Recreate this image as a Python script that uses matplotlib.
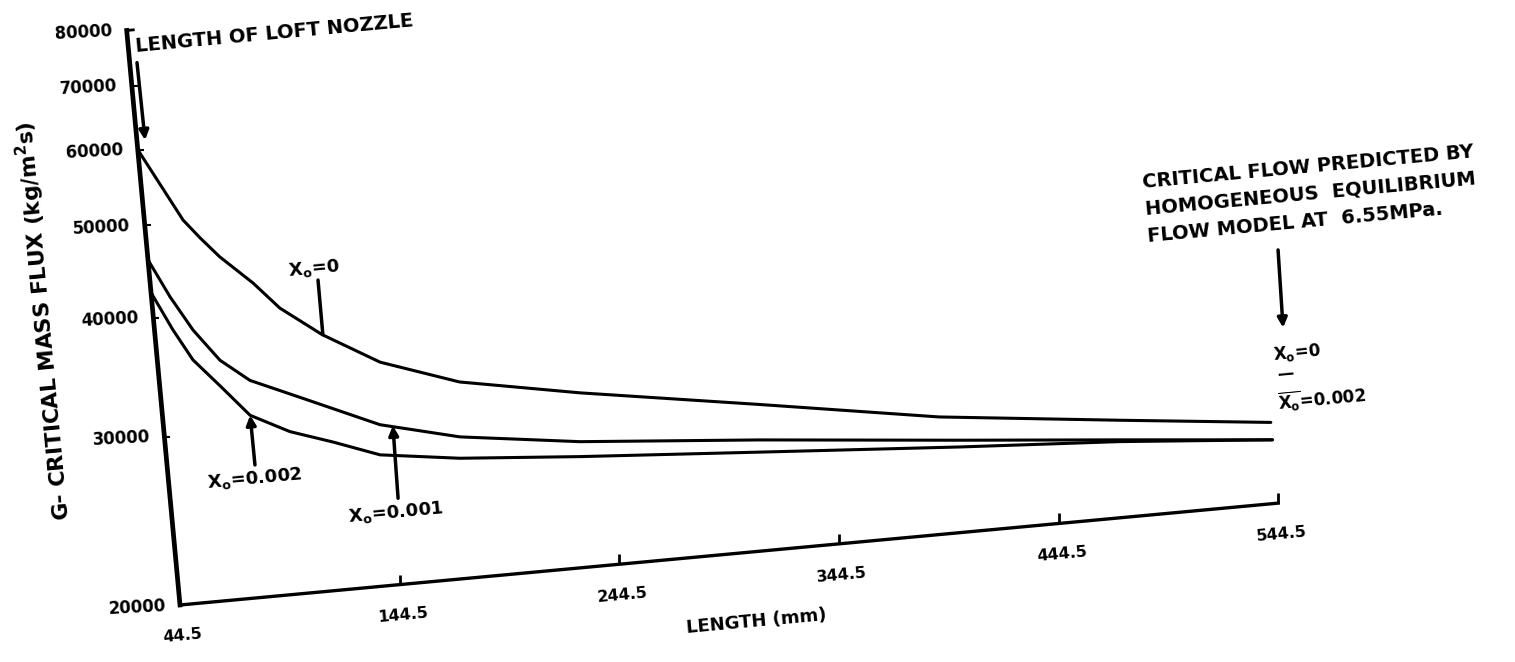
import matplotlib
matplotlib.use('Agg')
import matplotlib.pyplot as plt
from matplotlib.transforms import Affine2D
from matplotlib.markers import TICKUP, TICKRIGHT

# critical mass flux G (kg/m2s) vs length (mm)
len_xo0 = [44.5, 62, 69, 77, 91, 102, 120, 145, 180, 234, 315, 395, 477, 544.5]
g_xo0 = [60000, 50200, 47900, 45600, 42500, 39800, 37000, 34200, 32050, 30400, 28400, 26500, 25250, 24300]
len_xo001 = [44.5, 52.9, 61.9, 72.8, 85.5, 107.4, 142.3, 177.9, 231.9, 313.2, 403.4, 475.7, 544.5]
g_xo001 = [46000, 41900, 38500, 35600, 33700, 32000, 29450, 28100, 27050, 26100, 24950, 24100, 23300]
len_xo002 = [44.5, 52.8, 60.6, 71.7, 84.1, 101.4, 120.4, 141.1, 177, 231.3, 312.7, 403.2, 475.6, 544.5]
g_xo002 = [42500, 38700, 35850, 33500, 31000, 29550, 28550, 27400, 26700, 26100, 25350, 24550, 24000, 23300]

x_ticks = [44.5, 144.5, 244.5, 344.5, 444.5, 544.5]
y_ticks = [20000, 30000, 40000, 50000, 60000, 70000, 80000]

plt.rcParams['font.family'] = 'DejaVu Sans'
plt.rcParams['font.weight'] = 'bold'
plt.rcParams['mathtext.fontset'] = 'dejavusans'
plt.rcParams['mathtext.default'] = 'bf'

fig = plt.figure(figsize=(15.15, 6.62), dpi=100)
ax = fig.add_axes([180 / 1515, 57 / 662, 1103 / 1515, 577 / 662])
ax.set_yscale('log')
ax.set_xlim(44.5, 544.5)
ax.set_ylim(20000, 80000)
ax.autoscale(False)
ax.set_axis_off()

# the scanned page is tilted, so everything is turned about the origin corner
tilt = 5.3
tr = ax.transData + Affine2D().rotate_deg_around(180, 57, tilt)

kw = dict(color='k', transform=tr, clip_on=False)
ckw = dict(lw=2.2, solid_joinstyle='round', solid_capstyle='round', **kw)
ax.plot(len_xo0, g_xo0, **ckw)
ax.plot(len_xo001, g_xo001, **ckw)
ax.plot(len_xo002, g_xo002, **ckw)

# axes
ax.plot([44.5, 544.5], [20000, 20000], lw=2.4, **kw)
ax.plot([44.5, 44.5], [20000, 80000], lw=3.4, **kw)
ax.plot([44.5, 47.5], [80000, 80000], lw=2, **kw)
ax.plot(x_ticks[1:], [20000] * 5, ls='none', marker=TICKUP, ms=7, mew=2, **kw)
ax.plot([44.5] * 5, y_ticks[1:-1], ls='none', marker=TICKRIGHT, ms=4, mew=1.5, **kw)

for x in x_ticks:
    ax.annotate(f'{x:g}', xy=(x, 20000), xycoords=tr, xytext=(3, -31),
                textcoords='offset pixels', ha='center', va='center',
                rotation=tilt, fontsize=11.5)
for y in y_ticks:
    ax.annotate(f'{y}', xy=(44.5, y), xycoords=tr, xytext=(-14, -2),
                textcoords='offset pixels', ha='right', va='center',
                rotation=3, fontsize=12)

ax.text(304, 16900, 'LENGTH (mm)', transform=tr, ha='center', va='center',
        rotation=tilt, rotation_mode='anchor', fontsize=13)
fig.text(44 / 1515, 1 - 321 / 662, 'G- CRITICAL MASS FLUX (kg/m$^2$s)',
         ha='center', va='center', rotation=90 + tilt, rotation_mode='anchor',
         fontsize=15.5)

arrow = dict(arrowstyle='-|>', color='k', lw=2.5, mutation_scale=14,
             shrinkA=0, shrinkB=0)
line = dict(arrowstyle='-', color='k', lw=2.5, shrinkA=0, shrinkB=0)

# top-left note
ax.text(111, 76800, 'LENGTH OF LOFT NOZZLE', transform=tr, ha='center',
        va='center', rotation=tilt, rotation_mode='anchor', fontsize=14)
ax.annotate('', xy=(48.2, 61300), xytext=(47.8, 73900), xycoords=tr,
            textcoords=tr, arrowprops=arrow)

# curve labels
ax.text(119, 43400, 'X$_o$=0', transform=tr, ha='center', va='center',
        rotation=tilt, rotation_mode='anchor', fontsize=13)
ax.annotate('', xy=(120.3, 37000), xytext=(120.4, 42200), xycoords=tr,
            textcoords=tr, arrowprops=line)
ax.text(83.6, 26600, 'X$_o$=0.002', transform=tr, ha='center', va='center',
        rotation=tilt, rotation_mode='anchor', fontsize=13)
ax.annotate('', xy=(84.1, 31000), xytext=(84.2, 27500), xycoords=tr,
            textcoords=tr, arrowprops=arrow)
ax.text(146, 23800, 'X$_o$=0.001', transform=tr, ha='center', va='center',
        rotation=tilt, rotation_mode='anchor', fontsize=13)
ax.annotate('', xy=(148.1, 29300), xytext=(147.4, 24600), xycoords=tr,
            textcoords=tr, arrowprops=arrow)

# right-hand note
ax.text(572, 41600, 'CRITICAL FLOW PREDICTED BY\nHOMOGENEOUS  EQUILIBRIUM\nFLOW MODEL AT  6.55MPa.',
        transform=tr, ha='center', va='center', multialignment='left',
        rotation=tilt, rotation_mode='anchor', fontsize=14, linespacing=1.55)
ax.annotate('', xy=(554, 30400), xytext=(555, 36650), xycoords=tr,
            textcoords=tr, arrowprops=arrow)
ax.text(548.3, 28540, 'X$_o$=0', transform=tr, ha='left', va='center',
        rotation=tilt, rotation_mode='anchor', fontsize=12)
ax.text(549.3, 27180, '\u2014', transform=tr, ha='left', va='center',
        rotation=tilt, rotation_mode='anchor', fontsize=12)
ax.text(548.6, 25480, r'$\overline{X_o}$=0.002', transform=tr, ha='left',
        va='center', rotation=tilt, rotation_mode='anchor', fontsize=12)

fig.savefig('out.png', dpi=100)
